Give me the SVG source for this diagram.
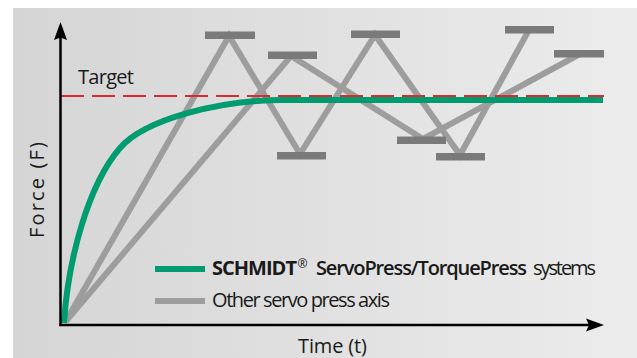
<svg xmlns="http://www.w3.org/2000/svg" width="637" height="358" viewBox="0 0 637 358">
  <defs>
    <linearGradient id="bg" x1="0" y1="0" x2="1" y2="0">
      <stop offset="0" stop-color="#d5d5d5"/>
      <stop offset="1" stop-color="#ececec"/>
    </linearGradient>
    <style>
      .axis { stroke: #000; stroke-width: 2.5; fill: none; }
      .head { fill: #000; }
      .gray { stroke: #9d9d9d; stroke-width: 6; fill: none; stroke-linejoin: miter; }
      .bar { fill: #7a7a7a; }
      .green { stroke: #009b6e; stroke-width: 6; fill: none; }
      .target { stroke: #d92a2e; stroke-width: 2; stroke-dasharray: 23 8; fill: none; }
      .t { font-family: "Open Sans", "Liberation Sans", sans-serif; font-size: 20px; fill: #1a1a1a; }
      .b { font-weight: bold; }
      .sb { font-weight: 600; }
      .sup { font-size: 12px; }
    </style>
  </defs>
  <rect x="0" y="0" width="637" height="358" fill="#ffffff"/>
  <rect x="13" y="8" width="624" height="350" fill="url(#bg)"/>

  <g id="connectors">
    <path id="other-axis-1" class="gray" d="M66,321 L229,36 L300,154 L375,35 L460,155 L529,30"/>
    <path id="other-axis-2" class="gray" d="M66,321 L291,56 L423,139 L580,54"/>
    <path id="schmidt-curve" class="green" d="M64,323 C68,260 88,185 120,148 C145,119 220,100 283,100 L603,100"/>
    <line id="target-line" class="target" x1="61" y1="96" x2="604" y2="96"/>
  </g>

  <g id="bars">
    <rect class="bar" x="205" y="31.5" width="50" height="7.5"/>
    <rect class="bar" x="268" y="51.5" width="49" height="7.5"/>
    <rect class="bar" x="277" y="152" width="49" height="7.5"/>
    <rect class="bar" x="351" y="30.5" width="49" height="7.5"/>
    <rect class="bar" x="397" y="136.5" width="49" height="7.5"/>
    <rect class="bar" x="436" y="153" width="49" height="7.5"/>
    <rect class="bar" x="505" y="26" width="49" height="7.5"/>
    <rect class="bar" x="554" y="50" width="50" height="7.5"/>
  </g>

  <g id="axes">
    <line class="axis" x1="60.5" y1="36" x2="60.5" y2="326"/>
    <path class="head" d="M60.5,22 L67,40 L60.5,37.5 L54,40 Z"/>
    <line class="axis" x1="59.3" y1="325" x2="590" y2="325"/>
    <path class="head" d="M604,325 L586,331.5 L589,325 L586,318.5 Z"/>
  </g>

  <g id="target-label">
    <text class="t" x="78" y="84" textLength="56">Target</text>
  </g>

  <g id="y-label">
    <text class="t" transform="translate(44,238) rotate(-90)" x="0" y="0" textLength="96">Force (F)</text>
  </g>

  <g id="x-label">
    <text class="t" x="298" y="352.5" textLength="69">Time (t)</text>
  </g>

  <g id="legend">
    <line class="green" x1="155" y1="269" x2="205" y2="269" stroke-width="7"/>
    <line class="gray" x1="155" y1="301" x2="205" y2="301" stroke-width="7"/>
    <text class="t b" x="212" y="275" textLength="85">SCHMIDT</text>
    <text class="t sup" x="297.5" y="268">®</text>
    <text class="t sb" x="316" y="275" textLength="211">ServoPress/TorquePress</text>
    <text class="t" x="533" y="275" textLength="63">systems</text>
    <text class="t" x="212" y="307" textLength="178">Other servo press axis</text>
  </g>
</svg>
